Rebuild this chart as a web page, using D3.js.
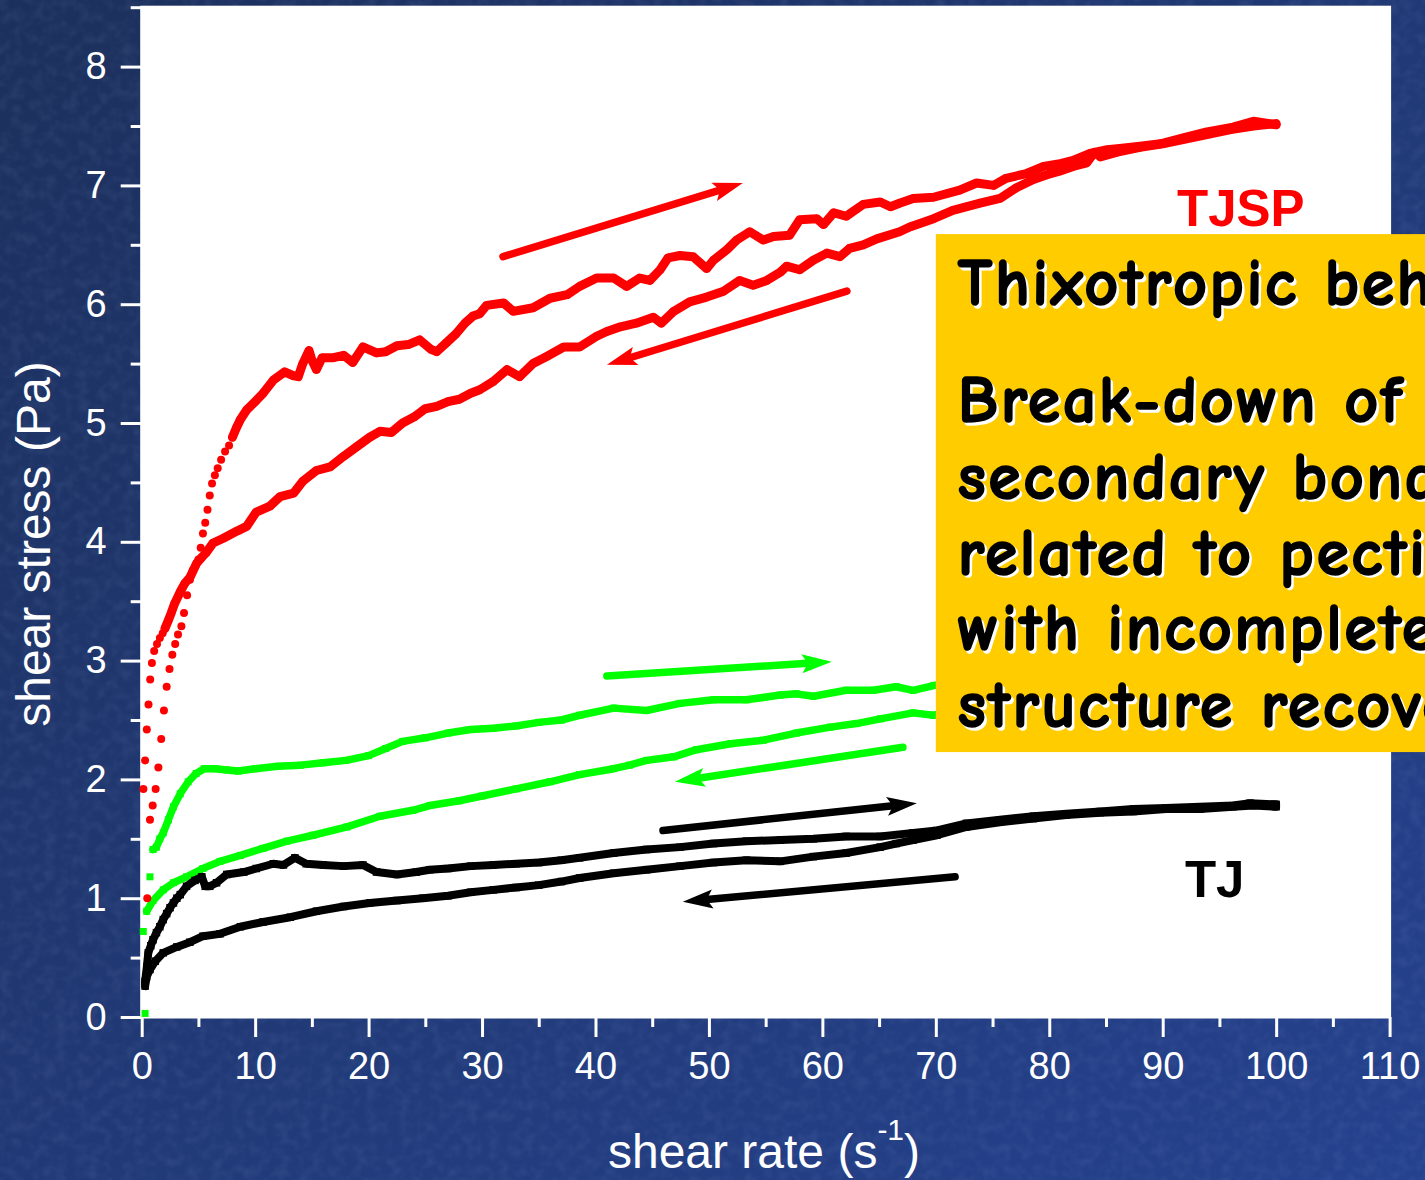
<!DOCTYPE html>
<html>
<head>
<meta charset="utf-8">
<script src="https://cdn.jsdelivr.net/npm/d3@7"></script>
<style>
  html, body { margin: 0; padding: 0; background: #1f3668; overflow: hidden; }
  svg { display: block; }
</style>
</head>
<body>
<svg id="chart" width="1425" height="1180"></svg>
<script>
// ---- axis ticks ----
const xTicks = [0, 10, 20, 30, 40, 50, 60, 70, 80, 90, 100, 110];
const xMinorTicks = [5, 15, 25, 35, 45, 55, 65, 75, 85, 95, 105];
const yTicks = [0, 1, 2, 3, 4, 5, 6, 7, 8];
const yMinorTicks = [0.5, 1.5, 2.5, 3.5, 4.5, 5.5, 6.5, 7.5, 8.5];

// ---- measured flow curves: [shear rate (1/s), shear stress (Pa)] ----
const tjspUp = [
  [0.49,1.00],[0.73,1.66],[0.97,1.78],[1.23,1.92],[1.47,2.10],[1.72,2.34],[1.96,2.58],[2.2,2.78],
  [2.45,2.93],[2.7,3.05],[2.95,3.14],[3.2,3.22],[3.5,3.29],[3.73,3.40],[4.0,3.55],[4.25,3.68],
  [4.5,3.76],[4.75,3.80],[5.0,3.85],[5.2,3.95],[5.4,4.07],[5.6,4.16],[5.8,4.27],[6.0,4.39],
  [6.2,4.49],[6.45,4.56],[6.7,4.62],[7.0,4.69],[7.35,4.76],[7.7,4.81],[8.0,4.88],[8.35,4.96],
  [8.7,5.03],[9.25,5.11],[10.1,5.19],[10.7,5.25],[11.6,5.36],[12.6,5.43],[13.3,5.40],[13.8,5.39],
  [14.2,5.50],[14.75,5.61],[15.0,5.53],[15.4,5.45],[15.9,5.55],[16.9,5.55],[17.8,5.57],[18.6,5.51],
  [19.5,5.64],[20.7,5.59],[21.5,5.60],[22.5,5.65],[23.5,5.66],[24.5,5.70],[25.5,5.62],[26.0,5.60],
  [26.8,5.67],[27.7,5.75],[28.5,5.84],[29.2,5.90],[29.8,5.92],[30.4,5.99],[31.9,6.01],[32.75,5.94],
  [34.5,5.97],[36.0,6.05],[37.5,6.08],[38.6,6.15],[40.1,6.22],[41.6,6.22],[42.75,6.15],[43.9,6.22],
  [44.8,6.20],[45.7,6.29],[46.4,6.39],[47.45,6.41],[48.6,6.40],[49.8,6.30],[50.4,6.37],[51.6,6.46],
  [52.45,6.54],[53.6,6.61],[54.8,6.54],[55.7,6.57],[57.1,6.58],[58.0,6.71],[59.5,6.72],[60.1,6.67],
  [61.0,6.77],[62.1,6.74],[63.6,6.84],[65.1,6.86],[66.0,6.82],[66.8,6.85],[68.0,6.89],[69.8,6.90],
  [72.1,6.96],[73.6,7.02],[75.1,7.00],[76.2,7.06],[78.0,7.10],[79.5,7.16],[80.8,7.18],[82.1,7.21],
  [83.6,7.27],[85.1,7.30],[86.2,7.31],[88.0,7.33],[89.8,7.35],[91.8,7.40],[93.9,7.45],[96.2,7.49],
  [98.0,7.54],[100,7.51]
];
const tjspDown = [
  [0.15,1.92],[0.3,2.16],[0.45,2.42],[0.6,2.63],[0.75,2.84],[0.9,2.98],[1.1,3.08],[1.35,3.14],
  [1.6,3.19],[1.85,3.23],[2.05,3.27],[2.35,3.34],[2.6,3.40],[2.9,3.48],[3.4,3.58],[3.8,3.65],
  [4.25,3.70],[4.85,3.82],[5.3,3.87],[5.7,3.91],[6.3,3.99],[7.2,4.03],[8.4,4.09],[9.25,4.13],
  [10.1,4.25],[11.3,4.30],[12.2,4.38],[13.4,4.41],[14.2,4.51],[15.4,4.60],[16.6,4.63],[17.8,4.72],
  [18.95,4.80],[20.1,4.88],[21.0,4.93],[22.0,4.92],[23.0,5.00],[24.0,5.05],[25.0,5.12],[26.0,5.14],
  [27.0,5.18],[28.0,5.20],[29.0,5.25],[29.8,5.28],[31.0,5.35],[32.2,5.45],[33.3,5.39],[34.5,5.50],
  [35.7,5.56],[37.2,5.64],[38.6,5.64],[40.1,5.73],[41.0,5.77],[42.2,5.81],[43.6,5.84],[45.1,5.89],
  [45.8,5.84],[46.9,5.94],[48.3,6.02],[49.8,6.06],[51.3,6.11],[52.7,6.20],[53.9,6.16],[55.1,6.20],
  [56.3,6.27],[56.85,6.32],[58.0,6.29],[59.2,6.37],[60.4,6.43],[61.55,6.40],[62.4,6.47],[63.6,6.50],
  [64.8,6.55],[66.8,6.61],[67.7,6.65],[69.8,6.72],[71.5,6.79],[73.9,6.85],[75.65,6.89],[77.1,6.98],
  [78.6,7.05],[79.8,7.09],[80.9,7.12],[82.1,7.16],[83.3,7.19],[84.0,7.28],[84.5,7.24],[86.0,7.28],
  [88.0,7.32],[90.0,7.35],[92.0,7.39],[94.0,7.43],[96.0,7.47],[98.0,7.50],[100,7.52]
];
const mixUp = [
  [0.3,0.03],[0.5,0.46],[0.73,1.18],[1.0,1.41],[1.3,1.43],[1.6,1.50],[1.9,1.55],[2.35,1.66],
  [2.8,1.77],[3.4,1.88],[4.1,1.98],[4.8,2.05],[5.5,2.09],[6.5,2.09],[7.5,2.08],[8.5,2.07],
  [10,2.09],[12,2.11],[14,2.12],[16,2.14],[18,2.16],[20,2.20],[21.5,2.26],[23,2.32],
  [25,2.35],[27,2.39],[29,2.42],[31,2.43],[33,2.45],[35,2.48],[37,2.50],[38.6,2.54],
  [41.6,2.60],[44.5,2.58],[47.45,2.64],[50.4,2.67],[53.3,2.67],[56.3,2.71],[57.7,2.72],[59.2,2.70],
  [62.1,2.75],[64.5,2.75],[66.5,2.78],[68,2.75],[69.8,2.79],[73,2.83],[76,2.87],[80,2.91],
  [84,2.95],[88,2.99],[92,3.03],[96,3.06],[100,3.10]
];
const mixDown = [
  [0.14,0.72],[0.44,0.89],[1.0,0.98],[1.9,1.07],[2.8,1.13],[3.95,1.18],[5.4,1.25],[6.9,1.31],
  [8.7,1.36],[10.7,1.42],[12.8,1.48],[15.1,1.53],[18.1,1.60],[21,1.69],[23.9,1.74],[25.4,1.78],
  [28,1.82],[30,1.86],[33,1.92],[36,1.98],[38.6,2.04],[41.6,2.09],[43,2.12],[44.5,2.16],
  [46.9,2.19],[48.9,2.25],[51.9,2.30],[54.8,2.33],[57.7,2.39],[60.7,2.44],[63,2.47],[65.1,2.51],
  [68,2.56],[69.8,2.54],[73,2.61],[76,2.66],[80,2.73],[84,2.80],[88,2.87],[92,2.94],
  [96,3.01],[100,3.08]
];
const tjUp = [
  [0.3,0.30],[0.45,0.42],[0.58,0.54],[0.8,0.60],[1.0,0.65],[1.3,0.71],[1.6,0.76],[1.9,0.82],
  [2.2,0.87],[2.5,0.92],[2.8,0.96],[3.1,1.00],[3.4,1.03],[3.95,1.10],[4.7,1.15],[5.3,1.18],
  [5.6,1.10],[6.0,1.10],[6.6,1.13],[7.5,1.20],[9.0,1.22],[10.1,1.25],[11.6,1.29],[12.5,1.28],
  [13.5,1.34],[14.5,1.29],[16.0,1.28],[17.8,1.27],[19.5,1.28],[20.7,1.22],[22.5,1.20],[24.2,1.22],
  [25.4,1.24],[27,1.25],[29,1.27],[31,1.28],[33,1.29],[35,1.30],[37,1.32],[38.6,1.34],
  [41.6,1.38],[44.5,1.41],[47.45,1.43],[50.4,1.46],[53.3,1.48],[56.3,1.49],[59.2,1.50],[62.1,1.52],
  [65.1,1.52],[68,1.55],[70.1,1.57],[72.7,1.63],[75.65,1.66],[78.6,1.69],[81.5,1.71],[84.5,1.73],
  [87.4,1.75],[90.3,1.76],[93.3,1.77],[96.2,1.78],[97.7,1.80],[100,1.79]
];
const tjDown = [
  [0.3,0.26],[0.44,0.34],[0.73,0.40],[1.2,0.47],[1.9,0.54],[3.1,0.59],[4.25,0.63],[5.4,0.68],
  [6.9,0.70],[8.7,0.76],[10.7,0.80],[13.1,0.84],[15.4,0.89],[17.8,0.93],[20.1,0.96],[22.5,0.98],
  [24.8,1.00],[27,1.02],[29,1.05],[31,1.07],[33,1.09],[35,1.11],[37,1.14],[38.6,1.17],
  [41.6,1.21],[44.5,1.24],[47.45,1.27],[50.4,1.30],[53.3,1.32],[56.3,1.31],[59.2,1.35],[62.1,1.38],
  [65.1,1.43],[66.5,1.46],[68,1.49],[70.1,1.53],[72.7,1.60],[75.65,1.64],[78.6,1.67],[81.5,1.70],
  [84.5,1.72],[87.4,1.73],[90.3,1.75],[93.3,1.75],[96.2,1.77],[98,1.78],[100,1.77]
];

// ---- direction arrows (data units: from -> to) ----
const sweepArrows = [
  { from: [31.85, 6.40], to: [52.99, 7.02], color: "#ff0000" },
  { from: [62.16, 6.11], to: [41.01, 5.49], color: "#ff0000" },
  { from: [41.0, 2.87],  to: [60.83, 2.99], color: "#00ff00" },
  { from: [67.1, 2.27],  to: [47.0, 1.98],  color: "#00ff00" },
  { from: [45.95, 1.57], to: [68.33, 1.80], color: "#000000" },
  { from: [71.7, 1.18],  to: [47.7, 0.97],  color: "#000000" }
];

const sampleLabels = [
  { text: "TJSP", at: [91.26, 6.66], color: "#ff0000" },
  { text: "TJ",   at: [91.96, 1.01], color: "#000000" }
];

const noteLines = [
  "Thixotropic behaviour",
  "Break-down of",
  "secondary bonds",
  "related to pectin",
  "with incomplete",
  "structure recovery"
];

// ---- layout ----
const W = 1425, H = 1180;
const x = d3.scaleLinear().domain([0, 110]).range([141.7, 1389.6]);
const y = d3.scaleLinear().domain([0, 8.5]).range([1017, 7.2]);
const axisFont = "'Liberation Sans', Arial, Helvetica, sans-serif";

const svg = d3.select("#chart");
const defs = svg.append("defs");

// slide background: navy gradient with a faint mottled grain
const grad = defs.append("linearGradient").attr("id", "bgGrad")
  .attr("x1", "0").attr("y1", "0").attr("x2", "1").attr("y2", "1");
grad.append("stop").attr("offset", "0%").attr("stop-color", "#1c305c");
grad.append("stop").attr("offset", "55%").attr("stop-color", "#213a78");
grad.append("stop").attr("offset", "100%").attr("stop-color", "#25428f");

const grain = defs.append("filter").attr("id", "grain")
  .attr("x", 0).attr("y", 0).attr("width", "100%").attr("height", "100%");
grain.append("feTurbulence").attr("type", "fractalNoise")
  .attr("baseFrequency", "0.09").attr("numOctaves", 2).attr("seed", 11).attr("result", "n");
grain.append("feColorMatrix").attr("in", "n").attr("type", "matrix")
  .attr("values", "0 0 0 0 0.45  0 0 0 0 0.55  0 0 0 0 0.85  1.4 0 0 0 -0.55");

svg.append("rect").attr("width", W).attr("height", H).attr("fill", "url(#bgGrad)");
svg.append("rect").attr("width", W).attr("height", H).attr("filter", "url(#grain)").attr("opacity", 0.12);

// plot frame
svg.append("rect")
  .attr("x", x(0)).attr("y", y(8.5))
  .attr("width", x(110) - x(0)).attr("height", y(0) - y(8.5))
  .attr("fill", "#ffffff").attr("stroke", "#ffffff").attr("stroke-width", 3);

// ---- axes ----
function styleAxis(g) {
  g.select(".domain").remove();
  g.selectAll("line").attr("stroke", "#ffffff").attr("stroke-width", 3);
  g.selectAll("text").attr("fill", "#ffffff")
    .style("font-family", axisFont).style("font-size", "38px");
}
svg.append("g").attr("transform", `translate(0,${y(0)})`)
  .call(d3.axisBottom(x).tickValues(xTicks).tickSize(20).tickSizeOuter(0).tickPadding(15))
  .call(styleAxis);
svg.append("g").attr("transform", `translate(0,${y(0)})`)
  .call(d3.axisBottom(x).tickValues(xMinorTicks).tickSize(10).tickSizeOuter(0).tickFormat(""))
  .call(styleAxis);
svg.append("g").attr("transform", `translate(${x(0)},0)`)
  .call(d3.axisLeft(y).tickValues(yTicks).tickSize(21).tickSizeOuter(0).tickPadding(14))
  .call(styleAxis);
svg.append("g").attr("transform", `translate(${x(0)},0)`)
  .call(d3.axisLeft(y).tickValues(yMinorTicks).tickSize(11).tickSizeOuter(0).tickFormat(""))
  .call(styleAxis);

// axis titles
svg.append("text")
  .attr("transform", `translate(50,${(y(0) + y(8.5)) / 2 + 32}) rotate(-90)`)
  .attr("text-anchor", "middle").attr("fill", "#ffffff")
  .style("font-family", axisFont).style("font-size", "48px")
  .text("shear stress (Pa)");

const xt = svg.append("text")
  .attr("x", 764).attr("y", 1168).attr("text-anchor", "middle").attr("fill", "#ffffff")
  .style("font-family", axisFont).style("font-size", "48px");
xt.append("tspan").text("shear rate (s");
xt.append("tspan").attr("dy", -28).style("font-size", "30px").text("-1");
xt.append("tspan").attr("dy", 28).text(")");

// ---- flow curves ----
const series = [
  { values: mixUp,    color: "#00ff00", shape: "square", size: 7,   width: 7.5, solidFrom: 1.0 },
  { values: mixDown,  color: "#00ff00", shape: "square", size: 7,   width: 7.5, solidFrom: 0.4 },
  { values: tjDown,   color: "#000000", shape: "square", size: 7.5, width: 8,   solidFrom: 0 },
  { values: tjUp,     color: "#000000", shape: "square", size: 7.5, width: 8,   solidFrom: 0 },
  { values: tjspDown, color: "#ff0000", shape: "circle", size: 8,   width: 9,   solidFrom: 2.0 },
  { values: tjspUp,   color: "#ff0000", shape: "circle", size: 8,   width: 9,   solidFrom: 8.0 }
];

const line = d3.line().x(d => x(d[0])).y(d => y(d[1]));

series.forEach(s => {
  const g = svg.append("g");
  g.append("path")
    .datum(s.values.filter(d => d[0] >= s.solidFrom))
    .attr("d", line)
    .attr("fill", "none").attr("stroke", s.color)
    .attr("stroke-width", s.width)
    .attr("stroke-linejoin", "round").attr("stroke-linecap", "round");
  if (s.shape === "circle") {
    g.selectAll("circle").data(s.values).join("circle")
      .attr("cx", d => x(d[0])).attr("cy", d => y(d[1]))
      .attr("r", s.size / 2).attr("fill", s.color);
  } else {
    g.selectAll("rect").data(s.values).join("rect")
      .attr("x", d => x(d[0]) - s.size / 2).attr("y", d => y(d[1]) - s.size / 2)
      .attr("width", s.size).attr("height", s.size).attr("fill", s.color);
  }
});

// ---- sweep-direction arrows ----
sweepArrows.forEach(a => {
  const x1 = x(a.from[0]), y1 = y(a.from[1]);
  const x2 = x(a.to[0]),   y2 = y(a.to[1]);
  const L = Math.hypot(x2 - x1, y2 - y1);
  const ux = (x2 - x1) / L, uy = (y2 - y1) / L;
  const px = -uy, py = ux;
  const headLen = 30, headHalf = 9.5, notch = 6;
  const bx = x2 - ux * headLen, by = y2 - uy * headLen;
  const nx = x2 - ux * (headLen - notch), ny = y2 - uy * (headLen - notch);
  svg.append("line")
    .attr("x1", x1).attr("y1", y1).attr("x2", nx).attr("y2", ny)
    .attr("stroke", a.color).attr("stroke-width", 7.5).attr("stroke-linecap", "round");
  svg.append("path")
    .attr("d", `M${x2},${y2}L${bx + px * headHalf},${by + py * headHalf}L${nx},${ny}L${bx - px * headHalf},${by - py * headHalf}Z`)
    .attr("fill", a.color);
});

// ---- sample labels ----
sampleLabels.forEach(l => {
  svg.append("text")
    .attr("x", x(l.at[0])).attr("y", y(l.at[1]))
    .attr("fill", l.color)
    .style("font-family", axisFont).style("font-weight", "bold").style("font-size", "51px")
    .text(l.text);
});

// ---- note box ----
const boxLeft = x(70.0), boxTop = y(6.59), boxBottom = y(2.23);
svg.append("rect")
  .attr("x", boxLeft).attr("y", boxTop)
  .attr("width", W - boxLeft + 20).attr("height", boxBottom - boxTop)
  .attr("fill", "#ffcc00");

const noteBaselines = [71, 188, 264.5, 340.5, 416, 493];
const noteFont = "'Comic Sans MS', 'Comic Neue', Lato, 'Open Sans', sans-serif";
noteLines.forEach((t, i) => {
  [["#ffffff", 2.5], ["#000000", 0]].forEach(([fill, off]) => {
    svg.append("text")
      .attr("x", boxLeft + 22 + off).attr("y", boxTop + noteBaselines[i] + off)
      .attr("fill", fill).attr("stroke", fill).attr("stroke-width", 1.6)
      .attr("stroke-linejoin", "round")
      .style("font-family", noteFont).style("font-weight", "bold")
      .style("font-size", "66px").style("letter-spacing", "2.5px")
      .text(t);
  });
});
</script>
</body>
</html>
